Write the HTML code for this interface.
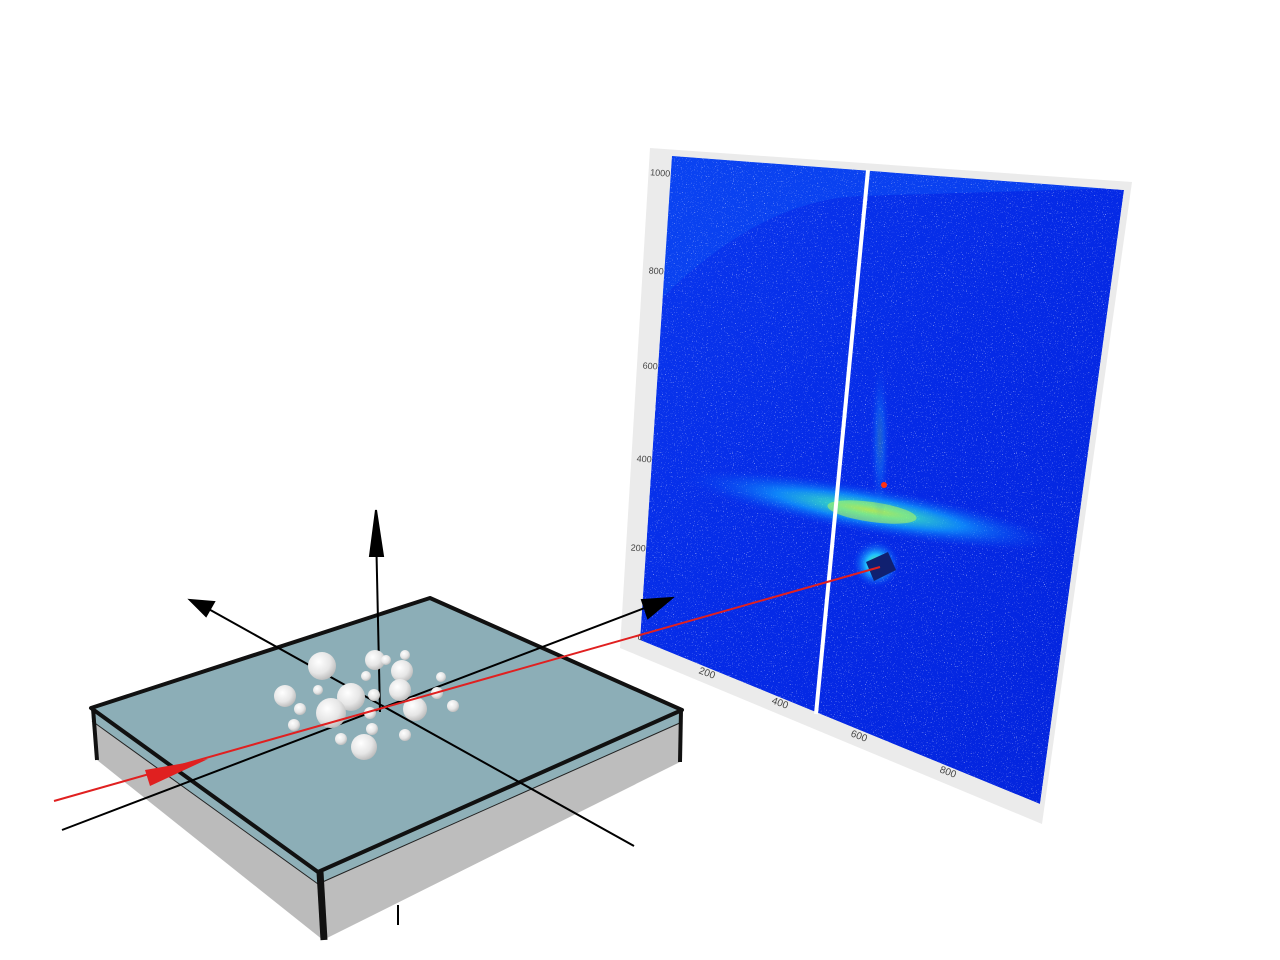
<!DOCTYPE html>
<html><head><meta charset="utf-8"><style>
html,body{margin:0;padding:0;background:#fff;}
svg{display:block;font-family:"Liberation Sans",sans-serif;}
</style></head><body>
<svg width="1280" height="960" viewBox="0 0 1280 960" xmlns="http://www.w3.org/2000/svg">
<defs>
<filter id="noise" x="0" y="0" width="100%" height="100%">
<feTurbulence type="fractalNoise" baseFrequency="0.9" numOctaves="1" seed="3" result="t"/>
<feColorMatrix in="t" type="matrix" values="0 0 0 0 1  0 0 0 0 1  0 0 0 0 1  0 0 0 9 -5.9" result="s"/>
<feComposite in="s" in2="SourceGraphic" operator="in"/>
</filter>
<clipPath id="detclip"><polygon points="672,156 1124,190 1040,804 640,640"/></clipPath>
<radialGradient id="streak" cx="0.5" cy="0.5" r="0.5">
<stop offset="0" stop-color="#c8ff40"/><stop offset="0.2" stop-color="#40ffc0"/><stop offset="0.5" stop-color="#10a0ff"/><stop offset="1" stop-color="#0a3cf5" stop-opacity="0"/>
</radialGradient>
<radialGradient id="halo" cx="0.5" cy="0.5" r="0.5">
<stop offset="0" stop-color="#70ff80"/><stop offset="0.4" stop-color="#20c0ff"/><stop offset="1" stop-color="#0a3cf5" stop-opacity="0"/>
</radialGradient>
<radialGradient id="sph" cx="0.38" cy="0.35" r="0.7">
<stop offset="0" stop-color="#ffffff"/><stop offset="0.6" stop-color="#e6e6e6"/><stop offset="1" stop-color="#b8b8b8"/>
</radialGradient>
<linearGradient id="detbg" x1="0" y1="0" x2="1" y2="1">
<stop offset="0" stop-color="#0a38ee"/><stop offset="0.5" stop-color="#052ae6"/><stop offset="1" stop-color="#0424dc"/>
</linearGradient>
</defs>

<g>
<polygon points="650,148 1132,182 1042,824 620,648" fill="#ebebeb"/>
<g clip-path="url(#detclip)">
<polygon points="672,156 1124,190 1040,804 640,640" fill="url(#detbg)"/>
<path d="M660,300 Q760,200 860,196 L1124,188 L1124,150 L660,150 Z" fill="#0c48f2" opacity="0.7"/>
<rect x="620" y="140" width="520" height="680" fill="#fff" filter="url(#noise)" opacity="0.6"/>
<ellipse cx="870" cy="510" rx="190" ry="24" transform="rotate(10 870 510)" fill="url(#streak)" opacity="0.75"/>
<ellipse cx="872" cy="512" rx="45" ry="10" transform="rotate(8 872 512)" fill="#c0ff50" opacity="0.5"/>
<ellipse cx="880" cy="440" rx="10" ry="80" fill="url(#halo)" opacity="0.25"/>
<circle cx="876" cy="564" r="24" fill="url(#halo)"/>
<polygon points="866,562 888,552 896,570 874,581" fill="#102070"/>
<circle cx="884" cy="485" r="3" fill="#ff3010"/>
</g>
<line x1="868" y1="170" x2="816" y2="714" stroke="#fff" stroke-width="4"/>
<g id="ticks" font-size="9" fill="#444"></g>
</g>

<g>
<polygon points="91,708 318,872 323,940 97,760" fill="#bbbbbb"/>
<polygon points="318,872 682,710 680,762 323,940" fill="#bdbdbd"/>
<polygon points="91,708 318,872 318,884 92,721" fill="#8fb0b8"/>
<polygon points="318,872 682,710 682,722 318,884" fill="#8fb0b8"/>
<line x1="92" y1="721" x2="318" y2="884" stroke="#222" stroke-width="1"/>
<line x1="318" y1="884" x2="682" y2="722" stroke="#222" stroke-width="1"/>
<polygon points="91,708 430,598 682,710 318,872" fill="#8caeb7" stroke="#111" stroke-width="4" stroke-linejoin="round"/>
<line x1="93" y1="708" x2="97" y2="760" stroke="#111" stroke-width="4"/>
<line x1="320" y1="872" x2="324" y2="940" stroke="#111" stroke-width="7"/>
<line x1="681" y1="710" x2="680" y2="762" stroke="#111" stroke-width="4"/>
</g>

<g stroke="#000" stroke-width="2" fill="#000">
<line x1="634" y1="846" x2="205" y2="607"/>
<polygon points="190,600 214,602 206,616"/>
<line x1="62" y1="830" x2="650" y2="606"/>
<polygon points="672,598 642,600 648,618" />
<line x1="380" y1="712" x2="376" y2="530"/>
<polygon points="376,510 370,556 383,556"/>
<line x1="398" y1="905" x2="398" y2="925"/>
</g>

<g id="spheres"></g>

<g>
<line x1="54" y1="801" x2="880" y2="567" stroke="#e02020" stroke-width="2"/>
<polygon points="145,770 208,759 150,786" fill="#e02020"/>
</g>

<script>
const yTicks = ["0","200","400","600","800","1000"];
const xTicks = ["200","400","600","800"];
const yPos = [[640,640],[638,551],[644,462],[650,369],[656,274],[660,176]];
const xPos = [[706,676],[779,706],[858,739],[947,775]];
const g = document.getElementById('ticks');
yTicks.forEach((t,i)=>{
  const e=document.createElementNS('http://www.w3.org/2000/svg','text');
  
  
  e.setAttribute('x',yPos[i][0]); e.setAttribute('y',yPos[i][1]);
  e.setAttribute('text-anchor','middle');
  e.setAttribute('transform',`rotate(4 ${yPos[i][0]} ${yPos[i][1]})`);
  e.textContent=t; g.appendChild(e);
});
xTicks.forEach((t,i)=>{
  const e=document.createElementNS('http://www.w3.org/2000/svg','text');
  
  
  e.setAttribute('x',xPos[i][0]); e.setAttribute('y',xPos[i][1]);
  e.setAttribute('text-anchor','middle');
  e.setAttribute('font-size','10');
  e.setAttribute('transform',`rotate(20 ${xPos[i][0]} ${xPos[i][1]})`);
  e.textContent=t; g.appendChild(e);
});
const sx=[322,375,402,405,351,400,285,331,415,300,318,366,374,441,437,453,294,370,372,341,405,364,386];
const sy=[666,660,671,655,697,690,696,713,709,709,690,676,695,677,693,706,725,713,729,739,735,747,660];
const sr=[14,10,11,5,14,11,11,15,12,6,5,5,6,5,6,6,6,6,6,6,6,13,5];
const sg=document.getElementById('spheres');
sx.forEach((x,i)=>{
  const c=document.createElementNS('http://www.w3.org/2000/svg','circle');
  
  
  c.setAttribute('cx',x); c.setAttribute('cy',sy[i]); c.setAttribute('r',sr[i]);
  c.setAttribute('fill','url(#sph)');
  sg.appendChild(c);
});
</script>
</svg>
</body></html>
